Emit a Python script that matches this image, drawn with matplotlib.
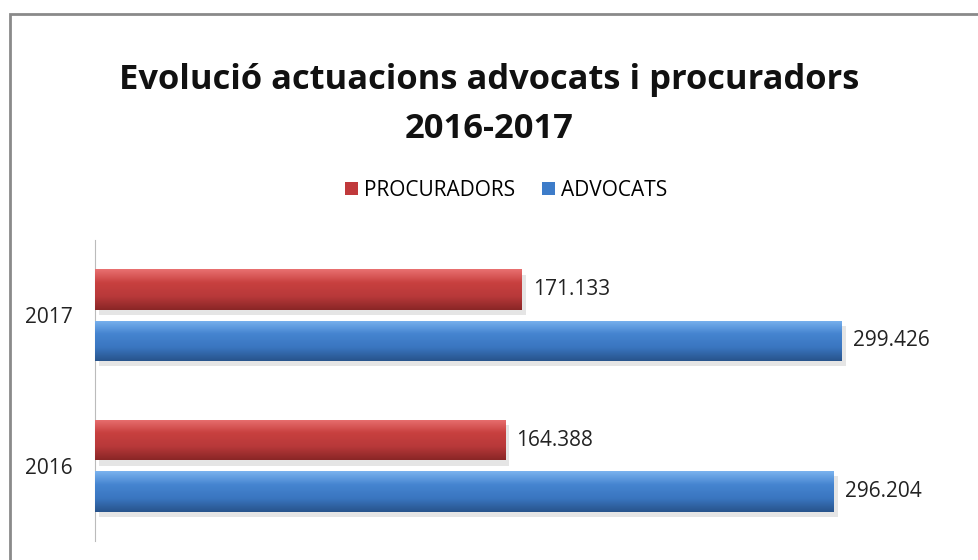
import numpy as np
import matplotlib.pyplot as plt
from matplotlib.patches import Rectangle
from matplotlib.colors import LinearSegmentedColormap

plt.rcParams['font.family'] = ['Open Sans', 'DejaVu Sans']

years = ['2016', '2017']
procuradors = [164388, 171133]
advocats = [296204, 299426]
labels_proc = ['164.388', '171.133']
labels_adv = ['296.204', '299.426']

fig = plt.figure(figsize=(9.79, 5.60), dpi=100)
# outer frame of the chart
fig.patches.append(Rectangle((10/979, -0.01), 1.0, 1 - 14/560 + 0.01, transform=fig.transFigure,
                             fill=False, edgecolor='#8a8a8a', linewidth=2))

ax = fig.add_axes([95/979, 19/560, 873/979, 301/560])

y = np.arange(len(years))
h = 0.27
off = 0.17

red_cmap = LinearSegmentedColormap.from_list('r', ['#e87070', '#c8403f', '#b8393a', '#8a2626'])
blue_cmap = LinearSegmentedColormap.from_list('b', ['#7ab2ee', '#4584d0', '#3a76c0', '#28548c'])

def shaded(bars, cmap):
    """ paint a vertical gradient inside every bar """
    grad = np.linspace(0, 1, 64).reshape(-1, 1)
    for b in bars:
        x0, y0 = b.get_x(), b.get_y()
        w, hh = b.get_width(), b.get_height()
        # soft shadow below
        ax.add_patch(Rectangle((x0 + 1500, y0 - 0.035), w, hh, facecolor='#000000',
                               alpha=0.10, linewidth=0, zorder=1))
        im = ax.imshow(grad, cmap=cmap, aspect='auto', extent=(x0, x0 + w, y0, y0 + hh),
                       origin='upper', zorder=3)
        im.set_clip_path(b)

bp = ax.barh(y + off, procuradors, height=h, color='#c0393b', label='PROCURADORS', zorder=2)
ba = ax.barh(y - off, advocats, height=h, color='#3d7cc9', label='ADVOCATS', zorder=2)
shaded(bp, red_cmap)
shaded(ba, blue_cmap)

for b, t in zip(bp, labels_proc):
    ax.annotate(t, (b.get_width(), b.get_y() + b.get_height() / 2), xytext=(8, 0),
                textcoords='offset points', va='center', ha='left', fontsize=15, color='#222222')
for b, t in zip(ba, labels_adv):
    ax.annotate(t, (b.get_width(), b.get_y() + b.get_height() / 2), xytext=(8, 0),
                textcoords='offset points', va='center', ha='left', fontsize=15, color='#222222')

ax.set_xlim(0, 350000)
ax.set_ylim(-0.5, 1.5)
ax.set_yticks(y)
ax.set_yticklabels(years, fontsize=15, color='#222222')
ax.tick_params(axis='y', length=0, pad=16)
ax.set_xticks([])
for s in ['top', 'right', 'bottom']:
    ax.spines[s].set_visible(False)
ax.spines['left'].set_color('#bbbbbb')

fig.text(0.5, 1 - 104.5/560, 'Evolució actuacions advocats i procuradors\n2016-2017', ha='center',
         va='center', fontsize=24.8, fontweight='bold', linespacing=1.56, color='#111111')

handles = [Rectangle((0, 0), 1, 1, facecolor='#c0393b'), Rectangle((0, 0), 1, 1, facecolor='#3d7cc9')]
fig.legend(handles, ['PROCURADORS', 'ADVOCATS'], loc='center', bbox_to_anchor=(0.517, 1 - 190/560),
           ncol=2, frameon=False, fontsize=15, handlelength=0.6, handleheight=0.6,
           handletextpad=0.3, columnspacing=1.3)

fig.savefig('out.png', dpi=100)
